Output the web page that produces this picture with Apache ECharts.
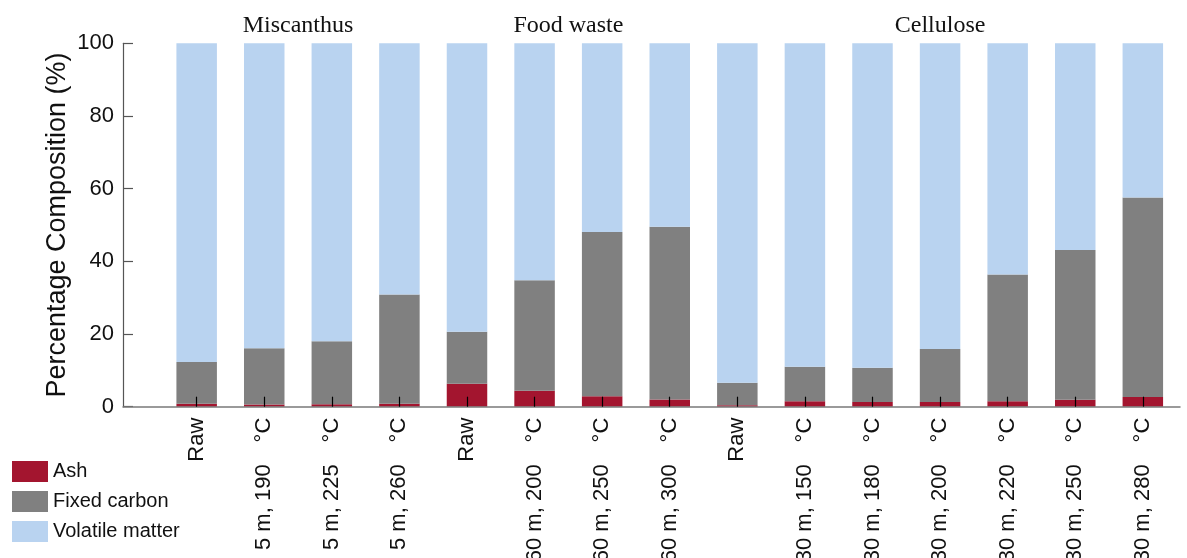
<!DOCTYPE html>
<html>
<head>
<meta charset="utf-8">
<script src="https://cdn.jsdelivr.net/npm/echarts@6/dist/echarts.min.js"></script>
<style>
  html, body { margin: 0; padding: 0; background: #fff; }
  #chart { width: 1187px; height: 558px; }
</style>
</head>
<body>
<div id="chart"></div>
<script>
// Proximate composition of raw and torrefied samples
const categories = [
  'Raw', '5 m, 190 °C', '5 m, 225 °C', '5 m, 260 °C',
  'Raw', '60 m, 200 °C', '60 m, 250 °C', '60 m, 300 °C',
  'Raw', '30 m, 150 °C', '30 m, 180 °C', '30 m, 200 °C', '30 m, 220 °C', '30 m, 250 °C', '30 m, 280 °C'
];
const groupNames = ['Miscanthus', 'Food waste', 'Cellulose'];
const groupCenters = [1.5, 5.5, 11];

const ash = [0.8, 0.6, 0.7, 0.8, 6.3, 4.4, 2.9, 2.0, 0.4, 1.5, 1.3, 1.3, 1.5, 1.9, 2.7];
// fixed carbon, as the share above the ash layer
const fixedCarbon = [11.5, 15.5, 17.3, 30.1, 14.3, 30.4, 45.2, 47.5, 6.2, 9.5, 9.4, 14.6, 34.9, 41.2, 54.9];
const volatileMatter = categories.map((_, i) => +(100 - ash[i] - fixedCarbon[i]).toFixed(1));

const yTicks = [0, 20, 40, 60, 80, 100];

const font = 'Liberation Sans, Arial, sans-serif';
const idx = categories.map((_, i) => i);
// [value, position] pairs; the value comes first so the stack sums along y
const pts = arr => arr.map((v, i) => [v, i]);

// category label: the temperature unit sits a little apart from the number
function categoryLabel(v) {
  const s = categories[Math.round(v)] || '';
  const k = s.indexOf(' °C');
  if (k < 0) return '{t|' + s + '}';
  return '{t|' + s.slice(0, k) + '}{u|°C}';
}

const chart = echarts.init(document.getElementById('chart'), null, { renderer: 'canvas' });

const barBase = {
  type: 'bar',
  stack: 'comp',
  barWidth: 40.5,
  encode: { x: 1, y: 0 },
  silent: true,
  emphasis: { disabled: true }
};

chart.setOption({
  animation: false,
  backgroundColor: '#ffffff',
  grid: { left: 123, right: 7, top: 43.3, bottom: 151.3, containLabel: false, outerBoundsMode: 'none' },
  legend: {
    orient: 'vertical',
    left: 12,
    top: 461,
    padding: 0,
    itemWidth: 36,
    itemHeight: 21,
    itemGap: 9,
    icon: 'rect',
    selectedMode: false,
    textStyle: { fontFamily: font, fontSize: 20, color: '#111' },
    data: ['Ash', 'Fixed carbon', 'Volatile matter']
  },
  xAxis: [
    {
      type: 'value',
      min: -1.09,
      max: 14.55,
      z: 10,
      splitLine: { show: false },
      axisLine: { show: true, onZero: false, lineStyle: { color: '#7a7a7a', width: 1.5 } },
      axisTick: {
        show: true, inside: true, length: 10,
        customValues: idx,
        lineStyle: { color: '#000', width: 1.2 }
      },
      axisLabel: {
        show: true,
        customValues: idx,
        rotate: 90,
        margin: 11,
        fontFamily: font,
        fontSize: 22,
        color: '#111',
        formatter: categoryLabel,
        rich: {
          t: { fontFamily: font, fontSize: 22, color: '#111' },
          u: { fontFamily: font, fontSize: 22, color: '#111', padding: [0, 0, 0, 22] }
        }
      }
    },
    {
      type: 'value',
      position: 'top',
      min: -1.09,
      max: 14.55,
      splitLine: { show: false },
      axisLine: { show: false },
      axisTick: { show: false },
      axisLabel: {
        show: true,
        customValues: groupCenters,
        margin: 6,
        fontFamily: 'Liberation Serif, Times New Roman, serif',
        fontSize: 24,
        color: '#111',
        formatter: v => groupNames[groupCenters.indexOf(v)] || ''
      }
    }
  ],
  yAxis: {
    type: 'value',
    min: yTicks[0],
    max: yTicks[yTicks.length - 1],
    interval: 20,
    name: 'Percentage Composition (%)',
    nameLocation: 'middle',
    nameGap: 52,
    nameMoveOverlap: false,
    nameTextStyle: { fontFamily: font, fontSize: 27, color: '#111' },
    splitLine: { show: false },
    axisLine: { show: true, onZero: false, lineStyle: { color: '#555', width: 1.2 } },
    axisTick: { show: true, inside: true, length: 10, lineStyle: { color: '#555', width: 1.2 } },
    axisLabel: { fontFamily: font, fontSize: 22, color: '#111', margin: 9 }
  },
  series: [
    Object.assign({}, barBase, { name: 'Ash', data: pts(ash), itemStyle: { color: '#A3152F' } }),
    Object.assign({}, barBase, { name: 'Fixed carbon', data: pts(fixedCarbon), itemStyle: { color: '#808080' } }),
    Object.assign({}, barBase, { name: 'Volatile matter', data: pts(volatileMatter), itemStyle: { color: '#B9D3F0' } })
  ]
});
</script>
</body>
</html>
